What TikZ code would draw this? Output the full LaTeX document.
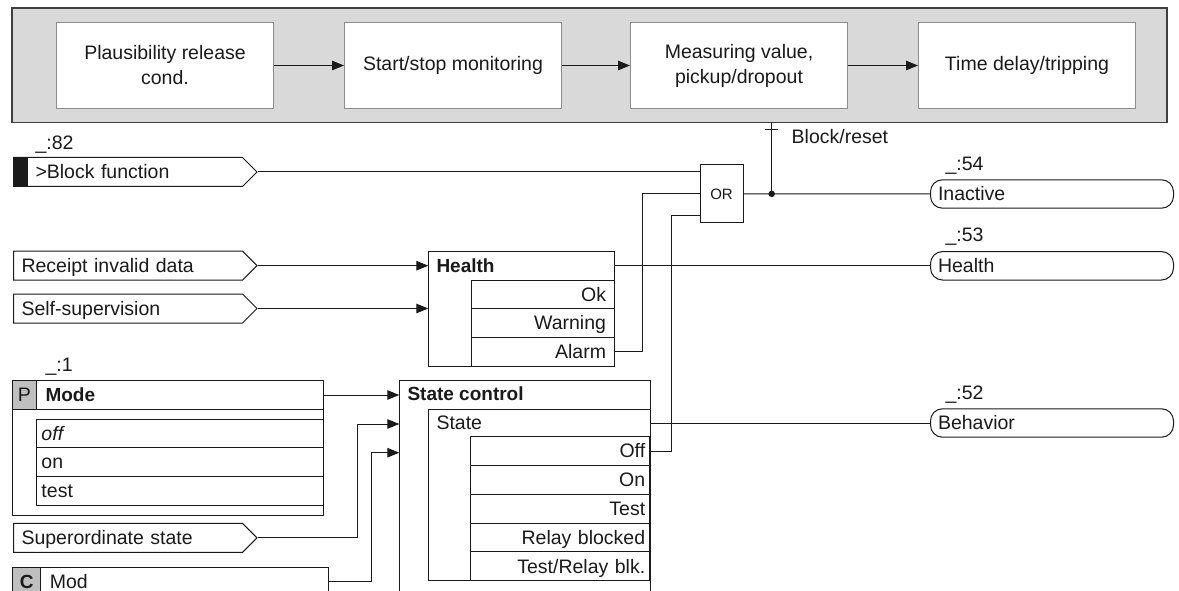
\documentclass[tikz,border=0pt]{standalone}
\usepackage{fontspec}
\setmainfont{Liberation Sans}
\usetikzlibrary{arrows.meta,positioning,calc,shapes.symbols}
\definecolor{panel}{HTML}{D9D9D9}
\definecolor{cellgray}{HTML}{BFBFBF}
\definecolor{stageline}{HTML}{8C8C8C}
\definecolor{panelline}{HTML}{404040}
\definecolor{ink}{HTML}{1A1A1A}
\newcommand{\rowstrut}{\rule[-4pt]{0pt}{21.6pt}}

\begin{document}
\begin{tikzpicture}[x=1pt,y=-1pt,line width=1pt,color=ink,
  big/.style={font=\fontsize{19.5}{25}\selectfont},
  txt/.style={font=\fontsize{19.5}{22}\selectfont},
  txtb/.style={font=\fontsize{19}{22}\selectfont\bfseries},
  stage/.style={draw=stageline,fill=white,minimum width=217pt,minimum height=86pt,align=center,inner sep=0pt,big},
  inport/.style={signal,signal to=east,signal pointer angle=90,draw,fill=white,minimum height=29pt,text width=213pt,inner xsep=8pt,inner ysep=0pt,align=left,anchor=west,txt,execute at begin node=\rowstrut},
  outport/.style={draw,rounded corners=12pt,minimum height=28.4pt,text width=228pt,inner xsep=7.5pt,inner ysep=0pt,align=left,anchor=west,txt,execute at begin node=\rowstrut},
  blk/.style={draw,anchor=north west,inner sep=0pt,outer sep=0pt},
  row/.style={draw,anchor=north west,outer sep=0pt,inner ysep=0pt,minimum height=28.7pt,txt,execute at begin node=\rowstrut},
  mrow/.style={row,text width=276pt,inner xsep=5.5pt,align=left},
  hrow/.style={row,text width=127pt,inner xsep=8pt,align=right},
  srow/.style={row,text width=170pt,inner xsep=4.5pt,align=right,minimum height=28.8pt},
  tag/.style={anchor=west,inner sep=0pt,txt},
  sig/.style={-{Triangle[length=12pt,width=9.5pt]}},
  dot/.style={circle,fill=ink,inner sep=0pt,minimum size=6.5pt}]
\path[use as bounding box,fill=white] (0,0) rectangle (1179,591);

% Top: stages of the function
\node[blk,fill=panel,draw=panelline,line width=1.2pt,minimum width=1155pt,minimum height=114.5pt] (stages) at (12,8) {};
\node[stage,anchor=north west] (plaus) at (56,22) {Plausibility release\\cond.};
\node[stage,right=70pt of plaus] (startstop) {Start/stop monitoring};
\node[stage,right=68pt of startstop] (measure) {Measuring value,\\pickup/dropout};
\node[stage,right=70pt of measure] (tdelay) {Time delay/tripping};
\foreach \a/\b in {plaus/startstop,startstop/measure,measure/tdelay}
  \draw[sig] (\a) -- (\b);

% Left: binary inputs
\node[tag] (l82) at (35,145) {\_:82};
\node[inport] (blkfn) at (13,172) {\hspace*{14pt}>Block function};
\fill ($(blkfn.west)+(0,-14.5)$) rectangle ($(blkfn.west)+(15,14.5)$);
\node[inport] (rcpt) at (13,265.7) {Receipt invalid data};
\node[inport] (ssup) at (13,308.5) {Self-supervision};

% Health block
\node[blk,minimum width=186pt,minimum height=114.3pt] (health) at (428.3,251.7) {};
\node[tag,txtb] (healthttl) at (436,265.7) {Health};
\node[hrow] (ok) at (471,280) {Ok};
\node[hrow,below=0pt of ok] (warn) {Warning};
\node[hrow,below=0pt of warn] (alarm) {Alarm};
\draw[sig] (rcpt.east) -- (rcpt.east -| health.west);
\draw[sig] (ssup.east) -- (ssup.east -| health.west);

% OR gate and outputs
\node[blk,minimum width=43pt,minimum height=57.7pt,font=\fontsize{15}{17}\selectfont] (or) at (700,165) {OR};
\coordinate (or in3) at ($(or.west)+(0,21.8)$);
\draw (blkfn.east) -- (blkfn.east -| or.west);
\draw (alarm.east) -- ++(28.7,0) |- (or.west);

\node[tag] (l54) at (945,165.7) {\_:54};
\node[outport] (inact) at (930,194) {Inactive};
\node[tag] (l53) at (945,236.7) {\_:53};
\node[outport] (hlthout) at (930,265.8) {Health};
\node[tag] (l52) at (945,395) {\_:52};
\node[outport] (behav) at (930,423) {Behavior};
\draw (or.east) -- (inact.west);
\node[dot] (jct) at ($(or.east)+(28.7,0)$) {};
\draw (jct.center) -- (jct |- stages.south);
\draw ($(jct |- stages.south)+(-6.5,7.3)$) -- ++(13,0);
\node[tag] (blkrst) at ($(jct |- stages.south)+(19.5,14)$) {Block/reset};
\draw (hlthout.west -| health.east) -- (hlthout.west);

% Mode parameter
\node[tag] (l1) at (45,366.7) {\_:1};
\node[blk,minimum width=310.6pt,minimum height=134.3pt] (modebox) at (12.7,380.7) {};
\node[blk,minimum width=310.6pt,minimum height=28.6pt] (modehdr) at (12.7,380.7) {};
\node[blk,fill=cellgray,minimum width=23.3pt,minimum height=28.6pt,txt] (pcell) at (12.7,380.7) {P};
\node[tag,txtb,right=9pt of pcell] (mode) {Mode};
\node[mrow] (moff) at (36,419) {\textit{off}};
\node[mrow,below=0pt of moff] (mon) {on};
\node[mrow,below=0pt of mon] (mtest) {test};

\node[inport] (superord) at (13,537.8) {Superordinate state};
\node[blk,minimum width=315.6pt,minimum height=29pt] (modc) at (12.7,567.3) {};
\node[blk,fill=cellgray,minimum width=28pt,minimum height=29pt,txtb] (ccell) at (12.7,567.3) {C};
\node[tag,right=8.6pt of ccell] (mod) {Mod};

% State control
\node[blk,minimum width=250.7pt,minimum height=215pt] (stctl) at (399.3,380.7) {};
\node[tag,txtb] (stttl) at (407,393.3) {State control};
\node[blk,minimum width=221.7pt,minimum height=171.7pt] (stbox) at (428.3,409) {};
\node[tag] (stlbl) at (436,422.7) {State};
\node[srow] (soff) at (470.7,436.7) {Off};
\node[srow,below=0pt of soff] (son) {On};
\node[srow,below=0pt of son] (stest) {Test};
\node[srow,below=0pt of stest] (srelay) {Relay blocked};
\node[srow,below=0pt of srelay] (stestrel) {Test/Relay blk.};

\coordinate (sc in2) at ($(stctl.north west)+(0,43.3)$);
\coordinate (sc in3) at ($(stctl.north west)+(0,72)$);
\draw[sig] (modehdr.east) -- (modehdr.east -| stctl.west);
\draw[sig] (superord.east) -- ++(100,0) |- (sc in2);
\draw[sig] (modc.east) -- ++(42.7,0) |- (sc in3);
\draw (soff.east) -- ++(21.7,0) |- (or in3);
\draw (behav.west -| stbox.east) -- (behav.west);
\end{tikzpicture}
\end{document}
